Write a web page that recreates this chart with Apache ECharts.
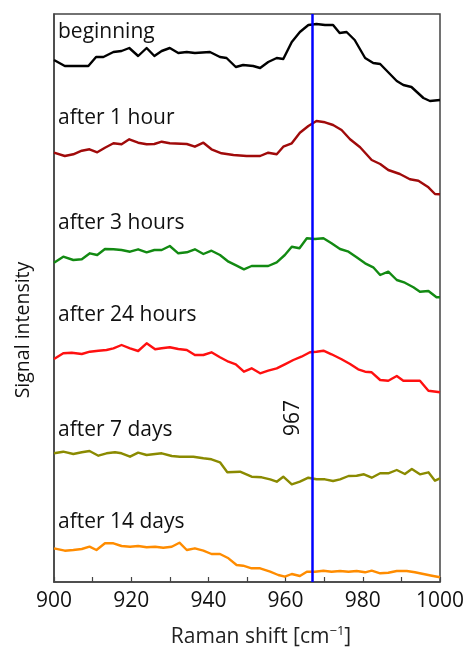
<!DOCTYPE html>
<html>
<head>
<meta charset="utf-8">
<script src="https://cdn.jsdelivr.net/npm/echarts@6/dist/echarts.min.js"></script>
<style>
html,body{margin:0;padding:0;background:#fff;}
#chart{width:465px;height:647px;}
</style>
</head>
<body>
<div id="chart"></div>
<script>
// Raman shift (cm-1) and signal intensity (arbitrary units, offset stacked)
var beginningX = [900,902.8,908.9,910.9,912.8,915.4,917.5,919.5,921.8,924,926,927.9,930,932.2,934.4,936.5,940.4,943,944.7,947.1,949,951.6,953.4,955.5,957.7,959.4,961.6,963.7,965.9,968,970.2,972.3,974,975.8,977.9,980.6,982.7,984.5,988.8,990.5,992.6,995.7,997.4,1000];
var beginningY = [522,516,516,525,525,530,531,534,526,534,526,531,534,529,530,529,530,525,524,515,517,516,514,520,524,523,540,550,557,558,557,557,549,550,542,524,519,518,501,497,495,484,481,482];

var hour1X = [900,902.8,905,907.2,909.2,911.2,913.2,915.4,917.5,919.5,921.8,924,926,927.9,930,934.4,936.5,938.7,940.8,943.4,946.5,949.9,953.4,955.5,957.7,959.4,961.6,963.7,965.9,968,970.2,972.3,974.5,976.7,979.3,982.3,984.5,986.6,989.6,992.2,994.4,997,998.7,1000];
var hour1Y = [429.3,426,427.7,431.3,432.7,429.7,434.3,438.7,437.7,442.7,439.3,437.7,438,440.3,438.7,438,435.3,439.3,432.7,428.7,427,426,426,429.3,427.7,435.3,438.7,449.3,456,461,459.7,457,452,442.7,434.7,422,418,412,408,402.7,401.3,394.7,388,387.7];

var hour3X = [900,902.4,905,907.2,909.3,911.2,913.2,915.4,917.5,919.7,921.8,924,926,927.9,930,932.2,934.4,936.5,938.7,940.8,943,945.2,947.3,949.2,951.2,953.4,955.5,957.7,959.8,961.6,963.6,965.5,967.6,969.8,971.9,974.1,976.3,978.4,980.6,982.7,984.5,986.6,988.8,990.9,993.1,994.8,997,999.1,1000];
var hour3Y = [319.3,325.3,322,322.7,328.7,327,333,332.7,332,330.3,332.7,329.7,332,332,336,328.7,329.7,332.7,328,331.3,327,320.3,316.3,312.7,316,316,316,319.7,327,335.3,333.7,343.7,343,343.7,338.7,333,330.3,324.7,318.7,314.7,307,310.3,302,299.3,294.7,290.3,291,284.7,284.7];

var hour24X = [900,902.4,904.6,907.2,909.3,911.5,913.6,915.4,917.5,919.7,921.8,924,926.2,927.9,930,932.2,934.4,936.5,938.7,940.8,943,945.2,947.1,949.2,951.2,953.4,955.5,957.7,959.8,962,964.1,966.3,968,969.8,971.9,974.5,976.7,978.8,980.6,982.3,984.5,986.6,988.8,990.5,994.8,997,1000];
var hour24Y = [223,228.7,229.3,228,230.3,231.3,232,233.7,237,233.7,231,238.7,232.7,233.7,234.7,233,232,227,227,229.7,224.7,220.3,217.7,210.3,213.7,208.7,211.3,213.7,217.7,222,225.3,229.7,230.3,231.3,227.7,222.7,218,212.7,210.3,209.7,202,201.3,206,201.3,201.3,191.3,189.7];

var day7X = [900,902.4,905,907.2,909.2,911.5,913.6,915.8,917.5,919.7,921.8,924,926.2,927.9,930.5,932.6,936.1,938.7,940.8,943,944.9,948.2,951.2,953.8,956,957.7,959.4,961.6,963.7,965.9,968,970.2,972.3,974.1,976.3,978.4,980.3,982.3,984.5,986.6,988.8,990.9,992.7,994.8,997,998.7,1000];
var day7Y = [128.7,130.3,128,129.7,131,126.3,128.7,129.7,128.7,125.3,129.3,127,128,128.7,126,125.3,125.3,123.7,122.7,119.7,109.7,110.3,105.3,104.7,102.7,100.3,105.3,97.7,100.3,104.3,102.7,102.7,101,102.7,106,106.3,107.7,104.3,108.7,108.7,112,108,113,107.7,109.7,101.3,103.7];

var day14X = [900,902.8,905,907.2,909.2,911,913.2,915.4,917.5,919.7,921.8,924,926.2,928.3,930.5,932.5,934.4,936.5,938.7,940.8,943,945.2,947.3,949,951.2,953.4,956,958.1,959.8,961.6,963.7,965.5,967.6,969.8,971.9,974.1,976.3,978.4,980.6,982.3,984.5,986.6,988.8,991.4,993.5,995.7,997.9,1000];
var day14Y = [33.7,31.3,32,33,35.3,32,38.7,38.7,36,35.3,36,34.7,35.3,34.3,35.3,39.3,32,33.7,31.3,28,28,23.7,17,16.3,13.7,13.7,10.3,7,5.3,8,6,10.3,10.3,11.3,10.3,11,10.3,11,9.7,11.3,8.7,9.3,11,11,9.7,8,6.3,4.7];

var seriesNames = ['beginning','after 1 hour','after 3 hours','after 24 hours','after 7 days','after 14 days'];
var seriesColors = ['#000000','#A00A0A','#128A12','#FF1010','#8A8A00','#FF8C00'];
var labelLevels = [550, 464, 359, 267, 152, 60];
var markerShift = 967;
var xTicks = [900, 920, 940, 960, 980, 1000];

var xs = [beginningX, hour1X, hour3X, hour24X, day7X, day14X];
var ys = [beginningY, hour1Y, hour3Y, hour24Y, day7Y, day14Y];

function pairs(a, b) { return a.map(function (v, i) { return [v, b[i]]; }); }

var series = seriesNames.map(function (name, i) {
  return {
    name: name,
    type: 'line',
    data: pairs(xs[i], ys[i]),
    showSymbol: false,
    symbol: 'none',
    lineStyle: { color: seriesColors[i], width: 2.4, join: 'round' },
    itemStyle: { color: seriesColors[i] },
    z: 3,
    markPoint: {
      symbol: 'circle', symbolSize: 0,
      label: {
        show: true, position: 'right', distance: 4,
        formatter: name, color: '#111', fontSize: 21,
        fontFamily: 'Open Sans'
      },
      data: [{ coord: [900, labelLevels[i]] }]
    }
  };
});

series.push({
  name: 'marker', type: 'line', data: [], symbol: 'none',
  markLine: {
    silent: true, symbol: 'none',
    lineStyle: { color: '#0000FF', width: 2.5, type: 'solid' },
    label: { show: false },
    data: [{ xAxis: markerShift }]
  },
  markPoint: {
    symbol: 'circle', symbolSize: 0,
    label: {
      show: true, formatter: String(markerShift), rotate: 90,
      color: '#111', fontSize: 21, fontFamily: 'Open Sans',
      offset: [0, -20]
    },
    data: [{ coord: [markerShift, 164] }]
  },
  z: 5
});

var chart = echarts.init(document.getElementById('chart'), null, { renderer: 'canvas' });
chart.setOption({
  animation: false,
  backgroundColor: '#ffffff',
  grid: {
    left: 54, right: 25, top: 14, bottom: 65,
    outerBoundsMode: 'none', containLabel: false,
    show: true, borderColor: '#444', borderWidth: 1.5, backgroundColor: 'transparent'
  },
  xAxis: {
    type: 'value', min: 900, max: 1000, interval: 20,
    name: 'Raman shift [cm{sup|−1}]',
    nameLocation: 'middle', nameGap: 43,
    nameTextStyle: {
      color: '#222', fontSize: 21, fontFamily: 'Open Sans', padding: [0, 0, 0, 28],
      rich: { sup: { fontSize: 13, verticalAlign: 'top', padding: [0, 0, 12, 0], color: '#222', fontFamily: 'Open Sans' } }
    },
    axisLine: { show: true, lineStyle: { color: '#444', width: 1.5 } },
    axisTick: { show: true, inside: true, length: 5, lineStyle: { color: '#444', width: 1.2 } },
    minorTick: { show: true, splitNumber: 2, length: 5, lineStyle: { color: '#444', width: 1.2 } },
    splitLine: { show: false },
    axisLabel: { color: '#111', fontSize: 21, fontFamily: 'Open Sans', margin: 9,
      formatter: function (v) { return xTicks.indexOf(v) >= 0 ? String(v) : ''; } }
  },
  yAxis: {
    type: 'value', min: 0, max: 568,
    name: 'Signal intensity', nameLocation: 'middle', nameGap: 21, nameRotate: 90,
    nameTextStyle: { color: '#111', fontSize: 19.5, fontFamily: 'Open Sans', padding: [0, 64, 0, 0] },
    axisLine: { show: true, lineStyle: { color: '#444', width: 1.5 } },
    axisTick: { show: false },
    axisLabel: { show: false },
    splitLine: { show: false }
  },
  series: series
});
</script>
</body>
</html>
